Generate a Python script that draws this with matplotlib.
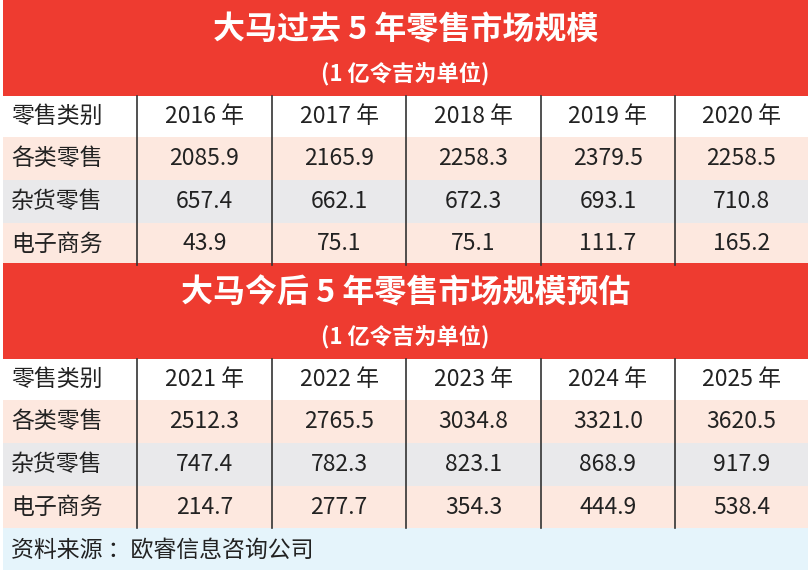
import matplotlib
matplotlib.use("Agg")
import matplotlib.pyplot as plt
from matplotlib.patches import Rectangle

plt.rcParams['font.family'] = ['Noto Sans CJK SC', 'DejaVu Sans']

title1 = "大马过去 5 年零售市场规模"
title2 = "大马今后 5 年零售市场规模预估"
subtitle = "(1 亿令吉为单位)"
header_label = "零售类别"
categories = ["各类零售", "杂货零售", "电子商务"]
years1 = ["2016 年", "2017 年", "2018 年", "2019 年", "2020 年"]
years2 = ["2021 年", "2022 年", "2023 年", "2024 年", "2025 年"]
all_retail_1 = ["2085.9", "2165.9", "2258.3", "2379.5", "2258.5"]
grocery_1 = ["657.4", "662.1", "672.3", "693.1", "710.8"]
ecommerce_1 = ["43.9", "75.1", "75.1", "111.7", "165.2"]
all_retail_2 = ["2512.3", "2765.5", "3034.8", "3321.0", "3620.5"]
grocery_2 = ["747.4", "782.3", "823.1", "868.9", "917.9"]
ecommerce_2 = ["214.7", "277.7", "354.3", "444.9", "538.4"]
source = "资料来源 ：欧睿信息咨询公司"

W, H = 811, 572
fig = plt.figure(figsize=(W/100, H/100), dpi=100)
ax = fig.add_axes([0, 0, 1, 1])
ax.set_xlim(0, W); ax.set_ylim(H, 0); ax.axis('off')

RED = "#ee3b30"; PINK = "#fde8df"; GRAY = "#e9e9eb"; BLUE = "#e5f4fb"
L, R = 3, 808
col_edges = [L, 137, 272, 406, 541, 675, R]

def rect(x0, y0, x1, y1, c):
    ax.add_patch(Rectangle((x0, y0), x1-x0, y1-y0, color=c, lw=0))

def block(top, title, years, rows):
    rect(L, top, R, top+96, RED)
    ax.text(W/2, top+30, title, ha='center', va='center', color='white', fontsize=23, fontweight='bold')
    ax.text(W/2, top+74, subtitle, ha='center', va='center', color='white', fontsize=16, fontweight='bold')
    y = top+96
    heights = [41, 43, 43, 42]
    colors = ["white", PINK, GRAY, PINK]
    labels = [header_label] + categories
    values = [years] + rows
    ys = [y]
    for h in heights:
        ys.append(ys[-1]+h)
    for i in range(4):
        rect(L, ys[i], R, ys[i+1], colors[i])
        yc = (ys[i]+ys[i+1])/2
        ax.text(11, yc, labels[i], ha='left', va='center', fontsize=16.5, color='#222222')
        for j in range(5):
            xc = (col_edges[j+1]+col_edges[j+2])/2
            ax.text(xc, yc, values[i][j], ha='center', va='center', fontsize=16.5, color='#222222')
    for x in col_edges[1:-1]:
        ax.plot([x, x], [ys[0], ys[-1]], color='#333333', lw=1.2)
    return ys[-1]

b = block(0, title1, years1, [all_retail_1, grocery_1, ecommerce_1])
b = block(263, title2, years2, [all_retail_2, grocery_2, ecommerce_2])
rect(L, b, R, H-2, BLUE)
ax.text(11, (b+H)/2, source, ha='left', va='center', fontsize=16.5, color='#222222')

fig.savefig("out.png", dpi=100)
